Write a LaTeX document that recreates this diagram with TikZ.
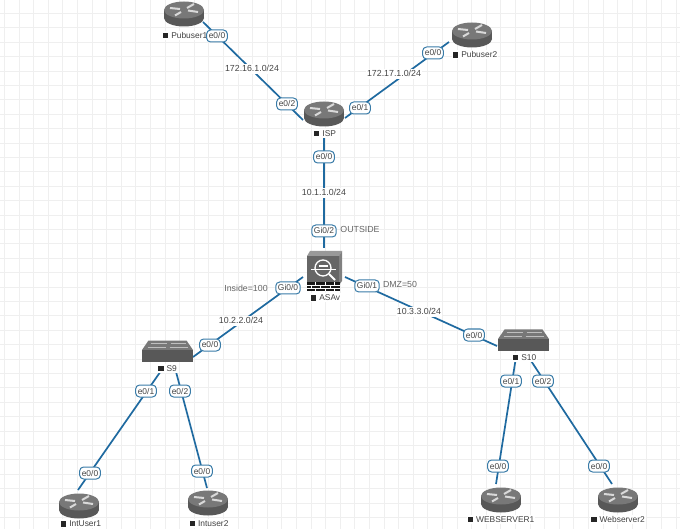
\documentclass[tikz,border=0pt]{standalone}
\usepackage{fontspec}
\setmainfont{Liberation Sans}
\usetikzlibrary{calc}
\definecolor{linkc}{HTML}{1F6AA0}
\definecolor{gridc}{HTML}{EFEFEF}
\definecolor{ifborder}{HTML}{3A7CA8}
\definecolor{txt}{HTML}{444444}
\definecolor{bodyc}{HTML}{585858}
\definecolor{topc}{HTML}{787878}
\definecolor{asafront}{HTML}{666666}
\newcommand{\hostsq}{\textcolor{black!85}{\rule{5.5pt}{5.5pt}}\hspace{3pt}}
\tikzset{
  x=1pt,y=-1pt,
  devnode/.style={inner sep=0pt,minimum width=40pt,minimum height=25pt},
  link/.style={draw=linkc,line width=1.7pt},
  iflabel/.style={draw=ifborder,fill=white,rounded corners=4pt,line width=1pt,inner xsep=2.2pt,inner ysep=3pt,font=\fontsize{8.4}{9}\selectfont,text=txt,text height=6pt,text depth=0pt},
  netlabel/.style={fill=white,inner xsep=1pt,inner ysep=2pt,font=\fontsize{8.8}{10}\selectfont,text=txt,text height=6.2pt,text depth=0.5pt},
  notelabel/.style={inner sep=0pt,font=\fontsize{8.8}{10}\selectfont,text=black!60},
  hostlabel/.style={fill=white,inner xsep=1pt,inner ysep=1.5pt,font=\fontsize{8.4}{9}\selectfont,text=black!75,text height=6pt,text depth=0pt},
  routericon/.pic={
    \fill[bodyc] (0,4) ellipse [x radius=20,y radius=8.5];
    \fill[bodyc] (-20,-4) rectangle (20,4);
    \fill[topc] (0,-4) ellipse [x radius=20,y radius=8.5];
    \draw[white!85!black,line width=2pt] (-14,-6) -- (-4,-5);
    \draw[white!85!black,line width=2pt] (3,-6) -- (10,-10);
    \draw[white!85!black,line width=2pt] (4,-3.5) -- (14,-2);
    \draw[white!85!black,line width=2pt] (-3,-2) -- (-9,1.5);
  },
  switchicon/.pic={
    \fill[topc] (-19,-10.5) -- (19,-10.5) -- (25.5,-1) -- (-25.5,-1) -- cycle;
    \fill[bodyc] (-25.5,-1) rectangle (25.5,10.5);
    \draw[white!75!black,line width=1pt] (-17,-7.5) -- (-1,-7.5) (3,-7.5) -- (18,-7.5);
    \draw[white!75!black,line width=1pt] (-20,-4) -- (-2,-4) (2,-4) -- (20,-4);
  },
  asaicon/.pic={
    \fill[black!40] (-18,-15) -- (-15,-20) -- (17,-20) -- (14,-15) -- cycle;
    \fill[black!50] (14,-15) -- (17,-20) -- (17,10) -- (14,14) -- cycle;
    \fill[asafront] (-18,-15) rectangle (14,12);
    \fill[black!90] (-18,11) rectangle (15,20);
    \draw[white,line width=0.6pt] (-18,14) -- (15,14) (-18,17) -- (15,17);
    \draw[white,line width=0.6pt] (-10,11) -- (-10,14) (0,11) -- (0,14) (9,11) -- (9,14)
      (-14,14) -- (-14,17) (-5,14) -- (-5,17) (5,14) -- (5,17)
      (-10,17) -- (-10,20) (0,17) -- (0,20) (9,17) -- (9,20);
    \draw[white,line width=1.3pt] (-2,-3) circle [radius=8];
    \draw[white,line width=1.1pt] (-14,-1.5) -- (11,-1.5);
    \draw[white,line width=1.1pt] (-6,-5) -- (3,-5);
    \draw[white,line width=2pt] (4,3) -- (10,9);
  }
}
\begin{document}
\begin{tikzpicture}
\useasboundingbox (0,0) rectangle (680,529);
\fill[white] (0,0) rectangle (680,529);
\foreach \i in {0,...,46} \draw[gridc,line width=0.9pt] ({4.5+14.6*\i},0) -- ({4.5+14.6*\i},529);
\foreach \i in {0,...,36} \draw[gridc,line width=0.9pt] (0,{-1+14.4*\i}) -- (680,{-1+14.4*\i});

% devices
\node[devnode] (pub1) at (184,14) {};
\node[devnode] (pub2) at (472,35) {};
\node[devnode] (isp) at (324,114) {};
\node[devnode] (asa) at (325,271) {};
\node[devnode] (s9) at (167.5,351) {};
\node[devnode] (s10) at (523.5,340) {};
\node[devnode] (iu1) at (79,506) {};
\node[devnode] (iu2) at (208,503) {};
\node[devnode] (web1) at (501,500) {};
\node[devnode] (web2) at (618,500) {};

% connectors
\draw[link] ($(pub1)+(19,8)$) -- ($(isp)+(-21,6)$);
\draw[link] ($(pub2)+(-23,7)$) -- ($(isp)+(21,4)$);
\draw[link] ($(isp)+(0,19)$) -- ($(asa)+(-1,-23)$);
\draw[link] ($(asa)+(-22,6)$) -- ($(s9)+(25.5,6)$);
\draw[link] ($(asa)+(20,6)$) -- ($(s10)+(-26.5,6)$);
\draw[link] ($(s9)+(-4.5,17)$) -- ($(iu1)+(-1,-16)$);
\draw[link] ($(s9)+(7.5,17)$) -- ($(iu2)+(-1,-15)$);
\draw[link] ($(s10)+(-7.5,17)$) -- ($(web1)+(-5,-16)$);
\draw[link] ($(s10)+(5,17)$) -- ($(web2)+(-6,-16)$);

% icons
\pic at (pub1) {routericon};
\pic at (pub2) {routericon};
\pic at (isp) {routericon};
\pic at (iu1) {routericon};
\pic at (iu2) {routericon};
\pic at (web1) {routericon};
\pic at (web2) {routericon};
\pic at (s9) {switchicon};
\pic at (s10) {switchicon};
\pic at (asa) {asaicon};

% host names
\node[hostlabel] (h1) at (185,35.5) {\hostsq Pubuser1};
\node[hostlabel] (h2) at (475,55) {\hostsq Pubuser2};
\node[hostlabel] (h3) at (325,133.5) {\hostsq ISP};
\node[hostlabel] (h4) at (325.5,298) {\hostsq ASAv};
\node[hostlabel] (h5) at (167.5,368) {\hostsq S9};
\node[hostlabel] (h6) at (524.5,357) {\hostsq S10};
\node[hostlabel] (h7) at (81,523.5) {\hostsq IntUser1};
\node[hostlabel] (h8) at (209,523) {\hostsq Intuser2};
\node[hostlabel] (h9) at (501,519) {\hostsq WEBSERVER1};
\node[hostlabel] (h10) at (618,519) {\hostsq Webserver2};

% network labels
\node[netlabel] (n1) at (252,69) {172.16.1.0/24};
\node[netlabel] (n2) at (394,74) {172.17.1.0/24};
\node[netlabel] (n3) at (324,193) {10.1.1.0/24};
\node[netlabel] (n4) at (241,321) {10.2.2.0/24};
\node[netlabel] (n5) at (419,312) {10.3.3.0/24};
\node[notelabel] (t1) at (360,229) {OUTSIDE};
\node[notelabel] (t2) at (246,288) {Inside=100};
\node[notelabel] (t3) at (400,284) {DMZ=50};

% interface labels
\node[iflabel] (i1) at (217,36) {e0/0};
\node[iflabel] (i2) at (287,104) {e0/2};
\node[iflabel] (i3) at (360,108) {e0/1};
\node[iflabel] (i4) at (433,53) {e0/0};
\node[iflabel] (i5) at (324,157) {e0/0};
\node[iflabel] (i6) at (324,231) {Gi0/2};
\node[iflabel] (i7) at (288,288) {Gi0/0};
\node[iflabel] (i8) at (367,286) {Gi0/1};
\node[iflabel] (i9) at (210,345) {e0/0};
\node[iflabel] (i10) at (146,391) {e0/1};
\node[iflabel] (i11) at (180,391) {e0/2};
\node[iflabel] (i12) at (90,473) {e0/0};
\node[iflabel] (i13) at (202,471) {e0/0};
\node[iflabel] (i14) at (474,335) {e0/0};
\node[iflabel] (i15) at (511,381) {e0/1};
\node[iflabel] (i16) at (543,381) {e0/2};
\node[iflabel] (i17) at (498,466) {e0/0};
\node[iflabel] (i18) at (599,466) {e0/0};
\end{tikzpicture}
\end{document}
